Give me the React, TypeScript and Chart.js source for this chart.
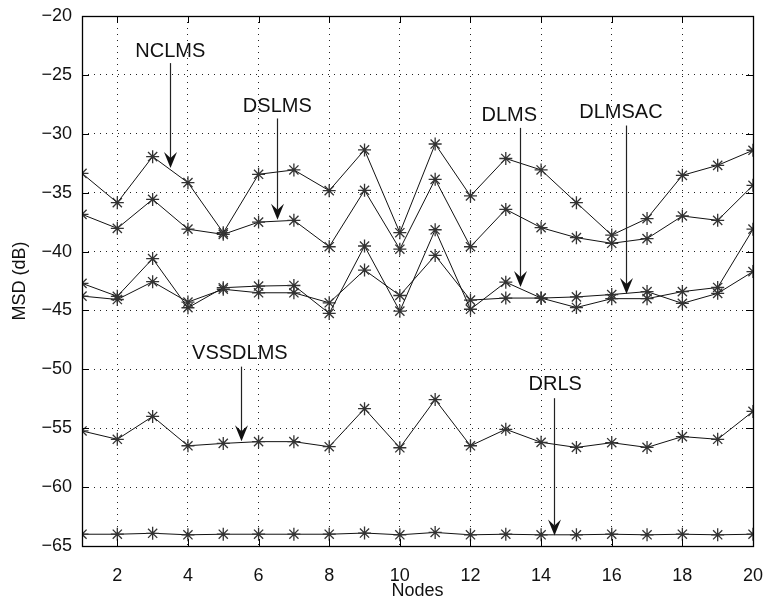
import React, { useEffect, useRef } from "react";
import { Chart, registerables } from "chart.js";

Chart.register(...registerables);

const nodes = [1, 2, 3, 4, 5, 6, 7, 8, 9, 10, 11, 12, 13, 14, 15, 16, 17, 18, 19, 20];

const nclms = [-33.36, -35.85, -31.94, -34.15, -38.4, -33.44, -33.07, -34.83, -31.37, -38.4, -30.87, -35.28, -32.1, -33.07, -35.85, -38.6, -37.2, -33.53, -32.68, -31.4];
const dslms = [-36.84, -38.03, -35.57, -38.1, -38.54, -37.5, -37.35, -39.59, -34.8, -39.8, -33.87, -39.59, -36.42, -37.97, -38.82, -39.3, -38.9, -36.98, -37.35, -34.38];
const dlms = [-42.7, -43.8, -40.6, -44.77, -43.07, -42.93, -42.88, -45.25, -39.53, -45.06, -38.15, -44.9, -42.6, -43.95, -44.75, -44.0, -44.0, -43.4, -43.05, -38.1];
const dlmsac = [-43.78, -44.07, -42.56, -44.29, -43.2, -43.5, -43.5, -44.35, -41.57, -43.73, -40.33, -44.12, -43.95, -43.95, -43.85, -43.65, -43.4, -44.4, -43.55, -41.7];
const vssdlms = [-55.23, -55.94, -54.0, -56.49, -56.29, -56.14, -56.14, -56.57, -53.34, -56.66, -52.57, -56.49, -55.09, -56.2, -56.63, -56.23, -56.63, -55.71, -55.94, -53.57];
const drls = [-64.0, -64.0, -63.92, -64.05, -64.0, -64.0, -64.0, -64.0, -63.9, -64.05, -63.85, -64.05, -64.0, -64.05, -64.05, -64.0, -64.05, -64.0, -64.05, -64.0];

const seriesNames = ["NCLMS", "DSLMS", "DLMS", "DLMSAC", "VSSDLMS", "DRLS"];
const seriesValues = [nclms, dslms, dlms, dlmsac, vssdlms, drls];

const xTicks = [2, 4, 6, 8, 10, 12, 14, 16, 18, 20];
const yTicks = [-65, -60, -55, -50, -45, -40, -35, -30, -25, -20];

// annotation labels with arrows (data coordinates)
const annotationLabels = ["NCLMS", "DSLMS", "DLMS", "DLMSAC", "VSSDLMS", "DRLS"];
const annotationTextX = [3.5, 6.53, 13.1, 16.26, 5.47, 14.4];
const annotationTextY = [-23.03, -27.7, -28.45, -28.2, -48.63, -51.3];
const annotationArrowX = [3.5, 6.53, 13.4, 16.4, 5.5, 14.37];
const annotationTailY = [-24.0, -28.7, -29.5, -29.3, -49.77, -52.45];
const annotationTipY = [-32.9, -37.3, -43.0, -43.6, -56.1, -64.1];

const FONT = "'Liberation Sans', Arial, Helvetica, sans-serif";
const FS = 20;
const TFS = 18;
const fmt = (v: number) => (v < 0 ? "\u2212" + Math.abs(v) : String(v));

const framePlugin = {
  id: "frame",
  afterDraw(chart: any) {
    const { ctx, chartArea } = chart;
    const { left, right, top, bottom } = chartArea;
    const xs = chart.scales.x;
    const ys = chart.scales.y;
    ctx.save();
    ctx.setLineDash([]);
    ctx.strokeStyle = "#000";
    ctx.lineWidth = 1;
    // inner tick marks
    const tl = 7;
    ctx.beginPath();
    xTicks.forEach((v) => {
      const px = Math.round(xs.getPixelForValue(v)) + 0.5;
      ctx.moveTo(px, bottom);
      ctx.lineTo(px, bottom - tl);
      ctx.moveTo(px, top);
      ctx.lineTo(px, top + tl);
    });
    yTicks.forEach((v) => {
      const py = Math.round(ys.getPixelForValue(v)) + 0.5;
      ctx.moveTo(left, py);
      ctx.lineTo(left + tl, py);
      ctx.moveTo(right, py);
      ctx.lineTo(right - tl, py);
    });
    ctx.stroke();
    // box
    ctx.lineWidth = 1.3;
    ctx.strokeRect(Math.round(left) + 0.5, Math.round(top) + 0.5, Math.round(right - left), Math.round(bottom - top));

    // annotations
    ctx.font = `${FS}px ${FONT}`;
    ctx.textAlign = "center";
    ctx.textBaseline = "middle";
    annotationLabels.forEach((lab, i) => {
      const tx = xs.getPixelForValue(annotationTextX[i]);
      const ty = ys.getPixelForValue(annotationTextY[i]);
      ctx.fillStyle = "#111";
      ctx.fillText(lab, tx, ty);
      const ax = Math.round(xs.getPixelForValue(annotationArrowX[i])) + 0.5;
      const ay0 = ys.getPixelForValue(annotationTailY[i]);
      const ay1 = ys.getPixelForValue(annotationTipY[i]);
      const headLen = 16;
      const headHalf = 6.5;
      const notch = 10;
      ctx.strokeStyle = "#222";
      ctx.lineWidth = 1.2;
      ctx.beginPath();
      ctx.moveTo(ax, ay0);
      ctx.lineTo(ax, ay1 - notch);
      ctx.stroke();
      ctx.beginPath();
      ctx.moveTo(ax, ay1);
      ctx.lineTo(ax - headHalf, ay1 - headLen);
      ctx.lineTo(ax, ay1 - notch);
      ctx.lineTo(ax + headHalf, ay1 - headLen);
      ctx.closePath();
      ctx.fillStyle = "#111";
      ctx.fill();
    });
    ctx.restore();
  },
};

const zeroPad = (s: any) => {
  s.paddingLeft = 0;
  s.paddingRight = 0;
  s.paddingTop = 0;
  s.paddingBottom = 0;
};

export default function App() {
  const ref = useRef<HTMLCanvasElement | null>(null);
  useEffect(() => {
    document.body.style.margin = "0";
    const canvas = ref.current;
    if (!canvas) return;
    const chart = new Chart(canvas, {
      type: "line",
      data: {
        datasets: seriesValues.map((vals, i) => ({
          label: seriesNames[i],
          data: nodes.map((n, j) => ({ x: n, y: vals[j] })),
          borderColor: "#111",
          borderWidth: 1,
          pointStyle: "star",
          pointRadius: 6.5,
          pointBorderColor: "#333",
          pointBorderWidth: 1.3,
          pointBackgroundColor: "#333",
          fill: false,
          tension: 0,
        })),
      },
      options: {
        responsive: false,
        animation: false,
        events: [],
        layout: { padding: { left: 0, right: 12, top: 16, bottom: 0 } },
        plugins: { legend: { display: false }, tooltip: { enabled: false } },
        scales: {
          x: {
            type: "linear",
            min: 1,
            max: 20,
            afterBuildTicks: (s: any) => {
              s.ticks = xTicks.map((v) => ({ value: v }));
            },
            afterFit: (s: any) => {
              s.height = 53;
              zeroPad(s);
            },
            grid: { color: "#222", lineWidth: 1, drawTicks: false },
            border: { display: false, dash: [1, 5] },
            ticks: {
              padding: 19,
              color: "#111",
              font: { family: FONT, size: TFS },
              callback: (v: any) => fmt(Number(v)),
              maxRotation: 0,
            },
            title: {
              display: true,
              text: "Nodes",
              color: "#111",
              font: { family: FONT, size: TFS, lineHeight: 1 },
              padding: { top: 0, bottom: -1 },
            },
          },
          y: {
            type: "linear",
            min: -65,
            max: -20,
            afterBuildTicks: (s: any) => {
              s.ticks = yTicks.map((v) => ({ value: v }));
            },
            afterFit: (s: any) => {
              s.width = 82;
              zeroPad(s);
            },
            grid: { color: "#222", lineWidth: 1, drawTicks: false },
            border: { display: false, dash: [1, 5] },
            ticks: {
              padding: 10,
              color: "#111",
              font: { family: FONT, size: TFS },
              callback: (v: any) => fmt(Number(v)),
            },
            title: {
              display: true,
              text: "MSD (dB)",
              color: "#111",
              font: { family: FONT, size: TFS, lineHeight: 1 },
              padding: { top: 11, bottom: 0 },
            },
          },
        },
      },
      plugins: [framePlugin],
    } as any);
    return () => chart.destroy();
  }, []);
  return <canvas ref={ref} width={765} height={599} style={{ display: "block" }} />;
}
